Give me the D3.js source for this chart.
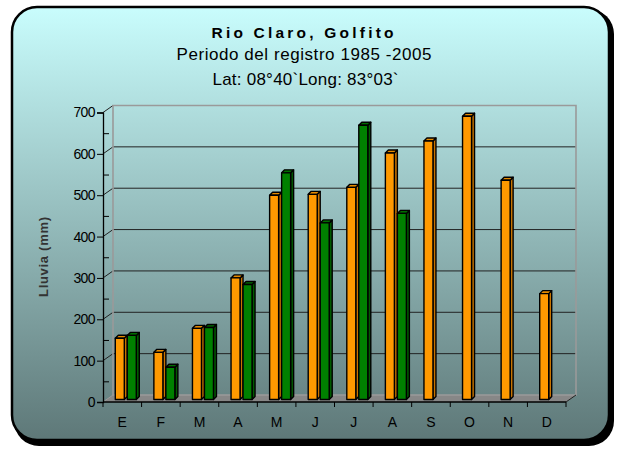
<!DOCTYPE html>
<html>
<head>
<meta charset="utf-8">
<script src="https://cdn.jsdelivr.net/npm/d3@7"></script>
<style>
  body { margin: 0; background: #fff; }
  text { font-family: "Liberation Sans", Arial, sans-serif; }
</style>
</head>
<body>
<svg id="chart" width="618" height="457"></svg>
<script>
// Monthly rainfall, Rio Claro (Golfito)
const meses = ["Ene","Feb","Mar","Abr","May","Jun","Jul","Ago","Set","Oct","Nov","Dic"];
const etiquetas = ["E","F","M","A","M","J","J","A","S","O","N","D"];
const lluviaPromedio = [148, 114, 172, 294, 494, 496, 513, 596, 625, 685, 530, 256];
const lluviaAnual = [155, 78, 174, 278, 548, 427, 663, 450, null, null, null, null];
const yTicks = [0, 100, 200, 300, 400, 500, 600, 700];
const yMinor = [50, 150, 250, 350, 450, 550, 650];
const titulo = ["Rio Claro, Golfito", "Periodo del registro  1985 -2005", "Lat: 08°40`Long: 83°03`"];

const svg = d3.select("#chart");

// panel background
const defs = svg.append("defs");
const grad = defs.append("linearGradient").attr("id", "fondo")
  .attr("x1", 0).attr("y1", 0).attr("x2", 0).attr("y2", 1);
grad.append("stop").attr("offset", "0%").attr("stop-color", "#c9fdfd");
grad.append("stop").attr("offset", "100%").attr("stop-color", "#5e7878");

svg.append("rect").attr("x", 14).attr("y", 9).attr("width", 600).attr("height", 437)
  .attr("rx", 25).attr("fill", "#000");
svg.append("rect").attr("x", 12).attr("y", 7).attr("width", 597).attr("height", 433)
  .attr("rx", 25).attr("fill", "url(#fondo)").attr("stroke", "#000").attr("stroke-width", 2.5);

// titles
const tg = svg.append("g").attr("text-anchor", "middle").attr("fill", "#000");
tg.append("text").attr("x", 302.5).attr("y", 37.5).attr("font-size", 15.5).attr("font-weight", "bold")
  .attr("textLength", 182).attr("lengthAdjust", "spacing").text(titulo[0]);
tg.append("text").attr("x", 304).attr("y", 59.5).attr("font-size", 17)
  .attr("textLength", 255).attr("lengthAdjust", "spacing").text(titulo[1]);
tg.append("text").attr("x", 305.5).attr("y", 84.5).attr("font-size", 17)
  .attr("textLength", 186).attr("lengthAdjust", "spacing").text(titulo[2]);

// scales
const x = d3.scaleBand().domain(meses).range([103, 566]);
const y = d3.scaleLinear().domain([0, 700]).range([402, 112.5]);
const back = { dx: 10, dy: -7 };   // back wall offset
const mid = { dx: 5, dy: -2.5 };   // plane of the bars

const x0 = x.range()[0], x1 = x.range()[1];

// floor
svg.append("path")
  .attr("d", `M${x0},${y(0)}L${x1},${y(0)}L${x1 + back.dx},${y(0) + back.dy}L${x0 + back.dx},${y(0) + back.dy}Z`)
  .attr("fill", "#878787").attr("stroke", "none");

// back wall gridlines
svg.append("g").selectAll("line").data(yTicks.slice(1, -1)).join("line")
  .attr("x1", x0 + back.dx).attr("x2", x1 + back.dx)
  .attr("y1", d => y(d) + back.dy).attr("y2", d => y(d) + back.dy)
  .attr("stroke", "#222").attr("stroke-width", 1);

// diagonal ticks on the side wall
svg.append("g").selectAll("line").data(yTicks).join("line")
  .attr("x1", x0).attr("x2", x0 + back.dx)
  .attr("y1", d => y(d)).attr("y2", d => y(d) + back.dy)
  .attr("stroke", d => d === 0 ? "#9a9a9a" : "#222").attr("stroke-width", 1);

// back wall frame
svg.append("path")
  .attr("d", `M${x0 + back.dx},${y(0) + back.dy}L${x0 + back.dx},${y(700) + back.dy}L${x1 + back.dx},${y(700) + back.dy}L${x1 + back.dx},${y(0) + back.dy}L${x0 + back.dx},${y(0) + back.dy}`)
  .attr("fill", "none").attr("stroke", "#9a9a9a").attr("stroke-width", 1.6);

// bars
const slot = d3.scaleBand().domain(["promedio", "anual"]).range([-12, 12]);
const w = 9, d = 3;
const yBase = y(0) + mid.dy;
const series = [
  { key: "promedio", values: lluviaPromedio, front: "#ff9900", side: "#c87400", top: "#e58a00" },
  { key: "anual", values: lluviaAnual, front: "#008000", side: "#005a00", top: "#006c00" }
];
const barG = svg.append("g").attr("stroke", "#000").attr("stroke-width", 1.4).attr("stroke-linejoin", "round");
meses.forEach((m, i) => {
  series.forEach(s => {
    const v = s.values[i];
    if (v == null) return;
    const bx = x(m) + x.bandwidth() / 2 + mid.dx + slot(s.key);
    const by = y(v) + mid.dy;
    const g = barG.append("g");
    g.append("path")
      .attr("d", `M${bx + w},${yBase}L${bx + w + d},${yBase - d}L${bx + w + d},${by - d}L${bx + w},${by}Z`)
      .attr("fill", s.side);
    g.append("path")
      .attr("d", `M${bx},${by}L${bx + d},${by - d}L${bx + w + d},${by - d}L${bx + w},${by}Z`)
      .attr("fill", s.top);
    g.append("rect").attr("x", bx).attr("y", by).attr("width", w).attr("height", yBase - by)
      .attr("fill", s.front);
  });
});

// y axis
const yAxis = svg.append("g").attr("transform", `translate(${x0},0)`)
  .call(d3.axisLeft(y).tickValues(yTicks).tickSize(6).tickPadding(2));
yAxis.select(".domain").attr("stroke", "#000").attr("stroke-width", 1.3);
yAxis.selectAll(".tick line").attr("stroke", "#000");
yAxis.selectAll(".tick text").attr("font-size", 14).attr("fill", "#000")
  .attr("letter-spacing", -0.6).style("font-family", "'Liberation Sans', Arial, sans-serif");
const yMin = svg.append("g").attr("transform", `translate(${x0},0)`)
  .call(d3.axisRight(y).tickValues(yMinor).tickSize(6).tickFormat(""));
yMin.select(".domain").remove();
yMin.selectAll(".tick line").attr("stroke", "#000");

// x axis
const xAxis = svg.append("g").attr("transform", `translate(0,${y(0)})`)
  .call(d3.axisBottom(x).tickSize(0).tickPadding(15).tickFormat((m, i) => etiquetas[i]));
xAxis.select(".domain").remove();
xAxis.selectAll(".tick text").attr("font-size", 14).attr("fill", "#000")
  .style("font-family", "'Liberation Sans', Arial, sans-serif");
const bordes = meses.map(m => x(m)).concat([x1]);
svg.append("g").selectAll("line").data(bordes).join("line")
  .attr("x1", b => b).attr("x2", b => b).attr("y1", y(0)).attr("y2", y(0) + 5)
  .attr("stroke", "#000").attr("stroke-width", 1);
svg.append("line").attr("x1", x0).attr("x2", x1).attr("y1", y(0)).attr("y2", y(0))
  .attr("stroke", "#000").attr("stroke-width", 1.3);
svg.append("line").attr("x1", x1).attr("x2", x1 + back.dx).attr("y1", y(0)).attr("y2", y(0) + back.dy)
  .attr("stroke", "#222").attr("stroke-width", 1);

// y axis title
svg.append("text").attr("transform", "translate(48,257) rotate(-90)")
  .attr("text-anchor", "middle").attr("font-size", 13).attr("font-weight", "bold")
  .attr("textLength", 80).attr("lengthAdjust", "spacing")
  .attr("fill", "#333").text("Lluvia (mm)");
</script>
</body>
</html>
